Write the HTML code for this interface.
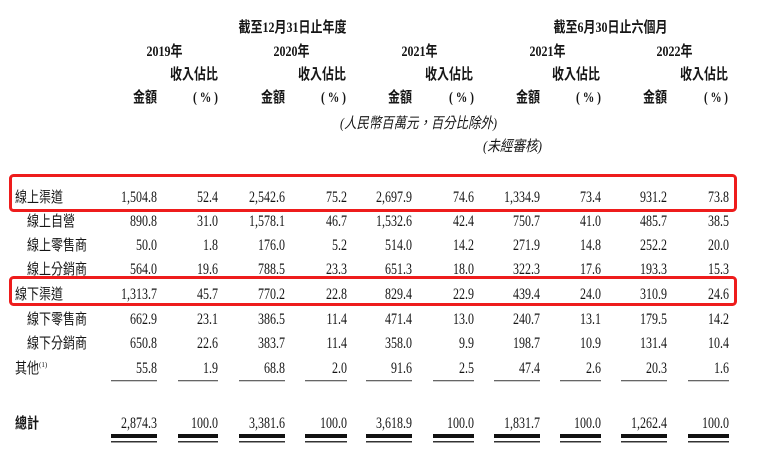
<!DOCTYPE html>
<html><head><meta charset="utf-8"><style>
html,body{margin:0;padding:0;background:#fff;}
body{width:757px;height:454px;overflow:hidden;}
svg{display:block;}
text{fill:#151515;}
.n{font-family:"Liberation Serif","Noto Serif CJK SC",serif;font-size:16px;}
.c{font-family:"Liberation Serif","Noto Sans CJK TC",sans-serif;font-size:15px;}
.b{font-weight:bold;}
</style></head><body>
<svg width="757" height="454" viewBox="0 0 757 454" xmlns="http://www.w3.org/2000/svg">
<!-- header -->
<g class="c b">
<text class="c b" transform="translate(292.5,32) scale(0.8,1)" text-anchor="middle">截至12月31日止年度</text>
<text class="c b" transform="translate(610.5,32) scale(0.8,1)" text-anchor="middle">截至6月30日止六個月</text>
<text class="c b" transform="translate(164.5,56) scale(0.8,1)" text-anchor="middle">2019年</text>
<text class="c b" transform="translate(291.5,56) scale(0.8,1)" text-anchor="middle">2020年</text>
<text class="c b" transform="translate(419.5,56) scale(0.8,1)" text-anchor="middle">2021年</text>
<text class="c b" transform="translate(547.5,56) scale(0.8,1)" text-anchor="middle">2021年</text>
<text class="c b" transform="translate(674.5,56) scale(0.8,1)" text-anchor="middle">2022年</text>

<text class="c b" transform="translate(218,79) scale(0.8,1)" text-anchor="end">收入佔比</text>
<text class="c b" transform="translate(346,79) scale(0.8,1)" text-anchor="end">收入佔比</text>
<text class="c b" transform="translate(473,79) scale(0.8,1)" text-anchor="end">收入佔比</text>
<text class="c b" transform="translate(600,79) scale(0.8,1)" text-anchor="end">收入佔比</text>
<text class="c b" transform="translate(728,79) scale(0.8,1)" text-anchor="end">收入佔比</text>

<text class="c b" transform="translate(157,102) scale(0.8,1)" text-anchor="end">金額</text>
<text class="c b" transform="translate(285,102) scale(0.8,1)" text-anchor="end">金額</text>
<text class="c b" transform="translate(412,102) scale(0.8,1)" text-anchor="end">金額</text>
<text class="c b" transform="translate(540,102) scale(0.8,1)" text-anchor="end">金額</text>
<text class="c b" transform="translate(667,102) scale(0.8,1)" text-anchor="end">金額</text>
</g>
<g class="c b">
<text class="c b" x="193" y="102" textLength="25" lengthAdjust="spacingAndGlyphs">(&#160;%&#160;)</text>
<text class="c b" x="321" y="102" textLength="25" lengthAdjust="spacingAndGlyphs">(&#160;%&#160;)</text>
<text class="c b" x="449" y="102" textLength="25" lengthAdjust="spacingAndGlyphs">(&#160;%&#160;)</text>
<text class="c b" x="576" y="102" textLength="25" lengthAdjust="spacingAndGlyphs">(&#160;%&#160;)</text>
<text class="c b" x="704" y="102" textLength="24" lengthAdjust="spacingAndGlyphs">(&#160;%&#160;)</text>
</g>
<text class="c" x="340" y="128" font-style="italic" textLength="157" lengthAdjust="spacingAndGlyphs">(人民幣百萬元，百分比除外)</text>
<text class="c" x="483" y="151" font-style="italic" textLength="59" lengthAdjust="spacingAndGlyphs">(未經審核)</text>

<!-- red boxes -->
<rect x="10.5" y="175.5" width="725" height="35" rx="3" ry="3" fill="none" stroke="#ee1c1c" stroke-width="3"/>
<rect x="10.5" y="277.5" width="725" height="27" rx="3" ry="3" fill="none" stroke="#ee1c1c" stroke-width="3"/>

<!-- labels -->
<text class="c" transform="translate(15,202) scale(0.8,1)">線上渠道</text>
<text class="c" transform="translate(27,226) scale(0.8,1)">線上自營</text>
<text class="c" transform="translate(27,250) scale(0.8,1)">線上零售商</text>
<text class="c" transform="translate(27,274) scale(0.8,1)">線上分銷商</text>
<text class="c" transform="translate(15,299) scale(0.8,1)">線下渠道</text>
<text class="c" transform="translate(27,324) scale(0.8,1)">線下零售商</text>
<text class="c" transform="translate(27,348) scale(0.8,1)">線下分銷商</text>
<text class="c" transform="translate(15,373) scale(0.8,1)">其他</text>
<text x="39" y="367" style="font-family:'Liberation Serif',serif;font-size:7px;">(1)</text>
<text class="c b" transform="translate(15,428) scale(0.8,1)">總計</text>

<!-- numbers -->
<g class="n" text-anchor="end">
<!-- row 1 -->
<text transform="translate(157,202) scale(0.75,1)">1,504.8</text>
<text transform="translate(218,202) scale(0.75,1)">52.4</text>
<text transform="translate(285,202) scale(0.75,1)">2,542.6</text>
<text transform="translate(347,202) scale(0.75,1)">75.2</text>
<text transform="translate(412,202) scale(0.75,1)">2,697.9</text>
<text transform="translate(474,202) scale(0.75,1)">74.6</text>
<text transform="translate(540,202) scale(0.75,1)">1,334.9</text>
<text transform="translate(601,202) scale(0.75,1)">73.4</text>
<text transform="translate(667,202) scale(0.75,1)">931.2</text>
<text transform="translate(729,202) scale(0.75,1)">73.8</text>
<!-- row 2 -->
<text transform="translate(157,226) scale(0.75,1)">890.8</text>
<text transform="translate(218,226) scale(0.75,1)">31.0</text>
<text transform="translate(285,226) scale(0.75,1)">1,578.1</text>
<text transform="translate(347,226) scale(0.75,1)">46.7</text>
<text transform="translate(412,226) scale(0.75,1)">1,532.6</text>
<text transform="translate(474,226) scale(0.75,1)">42.4</text>
<text transform="translate(540,226) scale(0.75,1)">750.7</text>
<text transform="translate(601,226) scale(0.75,1)">41.0</text>
<text transform="translate(667,226) scale(0.75,1)">485.7</text>
<text transform="translate(729,226) scale(0.75,1)">38.5</text>
<!-- row 3 -->
<text transform="translate(157,250) scale(0.75,1)">50.0</text>
<text transform="translate(218,250) scale(0.75,1)">1.8</text>
<text transform="translate(285,250) scale(0.75,1)">176.0</text>
<text transform="translate(347,250) scale(0.75,1)">5.2</text>
<text transform="translate(412,250) scale(0.75,1)">514.0</text>
<text transform="translate(474,250) scale(0.75,1)">14.2</text>
<text transform="translate(540,250) scale(0.75,1)">271.9</text>
<text transform="translate(601,250) scale(0.75,1)">14.8</text>
<text transform="translate(667,250) scale(0.75,1)">252.2</text>
<text transform="translate(729,250) scale(0.75,1)">20.0</text>
<!-- row 4 -->
<text transform="translate(157,274) scale(0.75,1)">564.0</text>
<text transform="translate(218,274) scale(0.75,1)">19.6</text>
<text transform="translate(285,274) scale(0.75,1)">788.5</text>
<text transform="translate(347,274) scale(0.75,1)">23.3</text>
<text transform="translate(412,274) scale(0.75,1)">651.3</text>
<text transform="translate(474,274) scale(0.75,1)">18.0</text>
<text transform="translate(540,274) scale(0.75,1)">322.3</text>
<text transform="translate(601,274) scale(0.75,1)">17.6</text>
<text transform="translate(667,274) scale(0.75,1)">193.3</text>
<text transform="translate(729,274) scale(0.75,1)">15.3</text>
<!-- row 5 -->
<text transform="translate(157,299) scale(0.75,1)">1,313.7</text>
<text transform="translate(218,299) scale(0.75,1)">45.7</text>
<text transform="translate(285,299) scale(0.75,1)">770.2</text>
<text transform="translate(347,299) scale(0.75,1)">22.8</text>
<text transform="translate(412,299) scale(0.75,1)">829.4</text>
<text transform="translate(474,299) scale(0.75,1)">22.9</text>
<text transform="translate(540,299) scale(0.75,1)">439.4</text>
<text transform="translate(601,299) scale(0.75,1)">24.0</text>
<text transform="translate(667,299) scale(0.75,1)">310.9</text>
<text transform="translate(729,299) scale(0.75,1)">24.6</text>
<!-- row 6 -->
<text transform="translate(157,324) scale(0.75,1)">662.9</text>
<text transform="translate(218,324) scale(0.75,1)">23.1</text>
<text transform="translate(285,324) scale(0.75,1)">386.5</text>
<text transform="translate(347,324) scale(0.75,1)">11.4</text>
<text transform="translate(412,324) scale(0.75,1)">471.4</text>
<text transform="translate(474,324) scale(0.75,1)">13.0</text>
<text transform="translate(540,324) scale(0.75,1)">240.7</text>
<text transform="translate(601,324) scale(0.75,1)">13.1</text>
<text transform="translate(667,324) scale(0.75,1)">179.5</text>
<text transform="translate(729,324) scale(0.75,1)">14.2</text>
<!-- row 7 -->
<text transform="translate(157,348) scale(0.75,1)">650.8</text>
<text transform="translate(218,348) scale(0.75,1)">22.6</text>
<text transform="translate(285,348) scale(0.75,1)">383.7</text>
<text transform="translate(347,348) scale(0.75,1)">11.4</text>
<text transform="translate(412,348) scale(0.75,1)">358.0</text>
<text transform="translate(474,348) scale(0.75,1)">9.9</text>
<text transform="translate(540,348) scale(0.75,1)">198.7</text>
<text transform="translate(601,348) scale(0.75,1)">10.9</text>
<text transform="translate(667,348) scale(0.75,1)">131.4</text>
<text transform="translate(729,348) scale(0.75,1)">10.4</text>
<!-- row 8 -->
<text transform="translate(157,373) scale(0.75,1)">55.8</text>
<text transform="translate(218,373) scale(0.75,1)">1.9</text>
<text transform="translate(285,373) scale(0.75,1)">68.8</text>
<text transform="translate(347,373) scale(0.75,1)">2.0</text>
<text transform="translate(412,373) scale(0.75,1)">91.6</text>
<text transform="translate(474,373) scale(0.75,1)">2.5</text>
<text transform="translate(540,373) scale(0.75,1)">47.4</text>
<text transform="translate(601,373) scale(0.75,1)">2.6</text>
<text transform="translate(667,373) scale(0.75,1)">20.3</text>
<text transform="translate(729,373) scale(0.75,1)">1.6</text>
<!-- total -->
<text transform="translate(157,428) scale(0.75,1)">2,874.3</text>
<text transform="translate(218,428) scale(0.75,1)">100.0</text>
<text transform="translate(285,428) scale(0.75,1)">3,381.6</text>
<text transform="translate(347,428) scale(0.75,1)">100.0</text>
<text transform="translate(412,428) scale(0.75,1)">3,618.9</text>
<text transform="translate(474,428) scale(0.75,1)">100.0</text>
<text transform="translate(540,428) scale(0.75,1)">1,831.7</text>
<text transform="translate(601,428) scale(0.75,1)">100.0</text>
<text transform="translate(667,428) scale(0.75,1)">1,262.4</text>
<text transform="translate(729,428) scale(0.75,1)">100.0</text>
</g>

<!-- single underlines -->
<g fill="#666">
<rect x="111" y="380" width="46" height="1.3"/>
<rect x="178" y="380" width="40" height="1.3"/>
<rect x="239" y="380" width="46" height="1.3"/>
<rect x="305" y="380" width="42" height="1.3"/>
<rect x="366" y="380" width="46" height="1.3"/>
<rect x="433" y="380" width="41" height="1.3"/>
<rect x="494" y="380" width="46" height="1.3"/>
<rect x="560" y="380" width="41" height="1.3"/>
<rect x="621" y="380" width="46" height="1.3"/>
<rect x="688" y="380" width="41" height="1.3"/>
</g>
<!-- double underlines -->
<g fill="#111">
<rect x="111" y="434" width="46" height="4"/>
<rect x="178" y="434" width="40" height="4"/>
<rect x="239" y="434" width="46" height="4"/>
<rect x="305" y="434" width="42" height="4"/>
<rect x="366" y="434" width="46" height="4"/>
<rect x="433" y="434" width="41" height="4"/>
<rect x="494" y="434" width="46" height="4"/>
<rect x="560" y="434" width="41" height="4"/>
<rect x="621" y="434" width="46" height="4"/>
<rect x="688" y="434" width="41" height="4"/>
</g>
<g fill="#333">
<rect x="111" y="441" width="46" height="1.5"/>
<rect x="178" y="441" width="40" height="1.5"/>
<rect x="239" y="441" width="46" height="1.5"/>
<rect x="305" y="441" width="42" height="1.5"/>
<rect x="366" y="441" width="46" height="1.5"/>
<rect x="433" y="441" width="41" height="1.5"/>
<rect x="494" y="441" width="46" height="1.5"/>
<rect x="560" y="441" width="41" height="1.5"/>
<rect x="621" y="441" width="46" height="1.5"/>
<rect x="688" y="441" width="41" height="1.5"/>
</g>
</svg>
</body></html>
